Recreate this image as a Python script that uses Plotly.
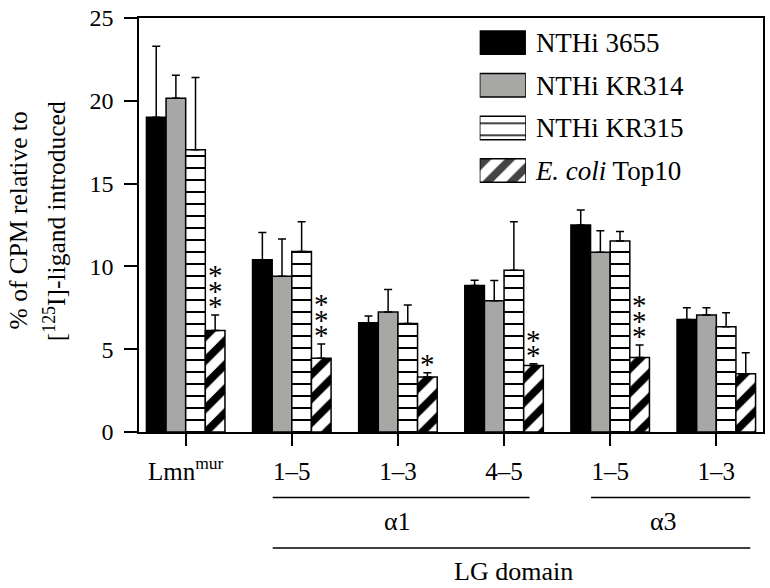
import plotly.graph_objects as go

# ---- data ----
tick_labels = ["Lmn<sup>mur</sup>", "1–5", "1–3", "4–5", "1–5", "1–3"]
series_names = ["NTHi 3655", "NTHi KR314", "NTHi KR315", "<i>E. coli</i> Top10"]
nthi_3655 = [19.0, 10.4, 6.6, 8.85, 12.5, 6.8]
nthi_3655_err = [4.3, 1.65, 0.4, 0.32, 0.9, 0.7]
nthi_kr314 = [20.15, 9.4, 7.25, 7.93, 10.85, 7.07]
nthi_kr314_err = [1.4, 2.25, 1.35, 1.22, 1.3, 0.43]
nthi_kr315 = [17.05, 10.9, 6.55, 9.77, 11.53, 6.35]
nthi_kr315_err = [4.35, 1.8, 1.12, 2.93, 0.57, 0.85]
ecoli = [6.13, 4.46, 3.32, 4.02, 4.5, 3.52]
ecoli_err = [0.94, 0.86, 0.26, 0.1, 0.76, 1.26]
ecoli_stars = [3, 3, 1, 2, 3, 0]

FONT = "Liberation Serif"
GRAY = "#a7a7a5"
x = list(range(len(tick_labels)))

styles = [
    dict(color="black", pattern=dict(shape="")),
    dict(color=GRAY, pattern=dict(shape="")),
    dict(color="white", pattern=dict(shape="-", fgcolor="black", bgcolor="white",
                                     fgopacity=1, size=12, solidity=0.17)),
    dict(color="white", pattern=dict(shape="/", fgcolor="black", bgcolor="white",
                                     fgopacity=1, size=17, solidity=0.45)),
]
vals = [nthi_3655, nthi_kr314, nthi_kr315, ecoli]
errs = [nthi_3655_err, nthi_kr314_err, nthi_kr315_err, ecoli_err]

fig = go.Figure()
for name, v, e, st in zip(series_names, vals, errs, styles):
    fig.add_trace(go.Bar(
        x=x, y=v, name=name, showlegend=False,
        marker=dict(color=st["color"], pattern=st["pattern"],
                    line=dict(color="black", width=1.5)),
        error_y=dict(type="data", array=e, arrayminus=[0] * len(e), symmetric=False,
                     color="black", thickness=1.5, width=4),
    ))

# legend drawn as an inset bar chart
fig.add_trace(go.Bar(
    x=[1] * 4, y=series_names, orientation="h", xaxis="x2", yaxis="y2", showlegend=False,
    width=[0.55] * 4,
    marker=dict(color=[s["color"] for s in styles],
                pattern=dict(shape=[s["pattern"]["shape"] for s in styles],
                             fgcolor="black", bgcolor=[s["color"] for s in styles],
                             fgopacity=1,
                             size=[12, 12, 12, 17], solidity=[0.3, 0.3, 0.17, 0.45]),
                line=dict(color="black", width=1.5)),
))

# significance stars above E. coli bars
PX_PER_UNIT = 418 / 25.0
annotations = []
group_w = 1 - 0.26
ecoli_off = group_w * (3.5 / 4 - 0.5)
for i, n in enumerate(ecoli_stars):
    top = ecoli[i] + ecoli_err[i]
    for k in range(n):
        yy = top + (16 + 15.5 * k) / PX_PER_UNIT
        annotations.append(dict(x=i + ecoli_off, y=yy, xref="x", yref="y", text="*",
                                showarrow=False, yshift=-7, xanchor="center", yanchor="middle",
                                font=dict(family=FONT, size=29, color="#000000")))

annotations += [
    dict(x=2, y=-0.215, xref="x", yref="paper", text="α1", showarrow=False,
         xanchor="center", yanchor="middle", font=dict(family=FONT, size=26, color="black")),
    dict(x=4.5, y=-0.215, xref="x", yref="paper", text="α3", showarrow=False,
         xanchor="center", yanchor="middle", font=dict(family=FONT, size=26, color="black")),
    dict(x=3.09, y=-0.337, xref="x", yref="paper", text="LG domain", showarrow=False,
         xanchor="center", yanchor="middle", font=dict(family=FONT, size=26, color="black")),
    dict(x=-0.193, y=0.51, xref="paper", yref="paper", text="% of CPM relative to",
         textangle=-90, showarrow=False, xanchor="center", yanchor="middle",
         font=dict(family=FONT, size=25.5, color="black")),
    dict(x=-0.134, y=0.51, xref="paper", yref="paper", text="[<sup>125</sup>I]-ligand introduced",
         textangle=-90, showarrow=False, xanchor="center", yanchor="middle",
         font=dict(family=FONT, size=25.5, color="black")),
]

line_style = dict(color="black", width=1.5)
shapes = [
    dict(type="line", xref="x", yref="paper", x0=0.82, x1=3.24, y0=-0.158, y1=-0.158, line=line_style),
    dict(type="line", xref="x", yref="paper", x0=3.82, x1=5.32, y0=-0.158, y1=-0.158, line=line_style),
    dict(type="line", xref="x", yref="paper", x0=0.82, x1=5.32, y0=-0.280, y1=-0.280, line=line_style),
]

fig.update_layout(
    width=770, height=588,
    margin=dict(l=139, r=5, t=14, b=156),
    paper_bgcolor="white", plot_bgcolor="white",
    barmode="group", bargap=0.26, bargroupgap=0,
    font=dict(family=FONT, size=22, color="black"),
    annotations=annotations, shapes=shapes,
    xaxis=dict(range=[-0.44, 5.44], tickvals=x, ticktext=tick_labels,
               ticks="outside", ticklen=12, tickwidth=1.5, tickcolor="black",
               showline=True, linecolor="black", linewidth=1.5, mirror=True,
               showgrid=False, zeroline=False, tickfont=dict(size=25),
               ticklabelstandoff=4),
    yaxis=dict(range=[0, 25], tickvals=[0, 5, 10, 15, 20, 25],
               ticks="outside", ticklen=13, tickwidth=1.5, tickcolor="black",
               showline=True, linecolor="black", linewidth=1.5, mirror=True,
               showgrid=False, zeroline=False, tickfont=dict(size=24),
               ticklabelstandoff=6),
    xaxis2=dict(domain=[0.546, 0.620], range=[0, 1], anchor="y2", visible=False, fixedrange=True),
    yaxis2=dict(domain=[0.58, 0.992], anchor="x2", side="right", autorange="reversed",
                showline=False, showgrid=False, zeroline=False, ticks="",
                tickfont=dict(size=27), ticklabelstandoff=9, fixedrange=True),
)
fig.write_html("out.html", config={"displayModeBar": False},
               post_script="document.body.style.margin='0';")
